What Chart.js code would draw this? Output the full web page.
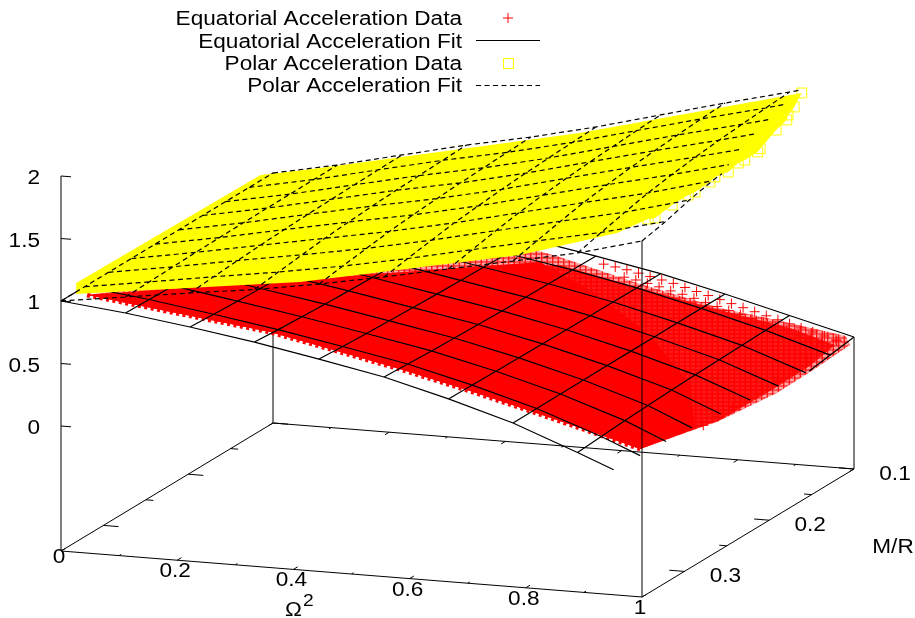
<!DOCTYPE html>
<html>
<head>
<meta charset="utf-8">
<title>Acceleration fits</title>
<script src="https://cdn.jsdelivr.net/npm/chart.js@4"></script>
<style>
  html, body { margin: 0; padding: 0; background: #fff; overflow: hidden; }
  canvas { display: block; }
</style>
</head>
<body>
<canvas id="myChart" width="915" height="618"></canvas>
<script>
/* global Chart */

// mesh of the two fits
const omegaGrid = [0, 0.111, 0.222, 0.333, 0.444, 0.556, 0.667, 0.778, 0.889, 1];
const mrGrid = [0.35, 0.322, 0.294, 0.267, 0.239, 0.211, 0.183, 0.156, 0.128, 0.1];

// one row per M/R value, one column per omega^2 value
const eqFitRows = [
  [1, 0.945, 0.874, 0.794, 0.699, 0.597, 0.462, 0.31, 0.115, -0.09],
  [1, 0.938, 0.861, 0.779, 0.685, 0.586, 0.458, 0.312, 0.129, -0.085],
  [1, 0.932, 0.851, 0.767, 0.674, 0.576, 0.454, 0.313, 0.141, -0.08],
  [1, 0.928, 0.842, 0.757, 0.665, 0.569, 0.451, 0.314, 0.151, -0.07],
  [1, 0.923, 0.834, 0.749, 0.656, 0.562, 0.448, 0.315, 0.16, -0.05],
  [1, 0.92, 0.828, 0.741, 0.649, 0.556, 0.446, 0.316, 0.167, -0.03],
  [1, 0.917, 0.823, 0.735, 0.644, 0.551, 0.444, 0.316, 0.173, -0.015],
  [1, 0.914, 0.818, 0.73, 0.639, 0.548, 0.443, 0.317, 0.178, -0.003],
  [1, 0.912, 0.814, 0.725, 0.634, 0.544, 0.441, 0.318, 0.183, 0.026],
  [1, 0.91, 0.81, 0.72, 0.63, 0.54, 0.44, 0.318, 0.187, 0.056],
];
const polarFitRows = [
  [1, 1.073, 1.146, 1.214, 1.299, 1.397, 1.502, 1.606, 1.711, 1.848],
  [1, 1.079, 1.161, 1.239, 1.328, 1.43, 1.542, 1.652, 1.761, 1.89],
  [1, 1.085, 1.176, 1.263, 1.355, 1.462, 1.579, 1.695, 1.809, 1.947],
  [1, 1.09, 1.188, 1.284, 1.38, 1.49, 1.612, 1.733, 1.851, 1.99],
  [1, 1.094, 1.198, 1.3, 1.398, 1.511, 1.637, 1.762, 1.883, 2.015],
  [1, 1.097, 1.206, 1.313, 1.413, 1.529, 1.658, 1.786, 1.909, 2.038],
  [1, 1.1, 1.212, 1.324, 1.425, 1.543, 1.675, 1.805, 1.93, 2.06],
  [1, 1.101, 1.217, 1.331, 1.434, 1.554, 1.687, 1.82, 1.946, 2.078],
  [1, 1.103, 1.222, 1.339, 1.443, 1.564, 1.7, 1.834, 1.962, 2.1],
  [1, 1.105, 1.226, 1.346, 1.451, 1.573, 1.71, 1.846, 1.975, 2.11],
];

// extent of the data clouds: [omega^2, depth along the M/R axis (0 = 0.35, 1 = 0.1), acceleration]
const eqDataEdge = [
  [0.034, 0.03, 1.03], [0.349, 0.03, 0.85], [0.452, 0.03, 0.752], [0.572, 0.03, 0.636],
  [0.688, 0.03, 0.51], [0.802, 0.03, 0.377], [0.912, 0.03, 0.242], [0.986, 0.03, 0.149],
];
const eqDataRim = [
  [0.997, 0.25, 0.078], [1.001, 0.35, 0.042], [1.006, 0.62, 0], [1.01, 0.78, 0.021],
  [1.004, 0.97, 0.024], [0.986, 1, 0.059], [0.897, 0.98, 0.151], [0.777, 0.98, 0.226],
  [0.634, 0.98, 0.374], [0.501, 0.98, 0.533], [0.398, 0.98, 0.631],
];
const eqDataThick = [
  [1.007, 0.35, 0.06], [1.003, 0.62, 0.038], [1.004, 0.78, 0.051], [1.004, 0.9, 0.096],
  [0.908, 0.95, 0.146], [0.788, 0.95, 0.245], [0.65, 0.95, 0.371], [0.501, 0.98, 0.469],
];
const eqDataDense = [
  [1, 0.25, 0.096], [0.918, 0.45, 0.205], [0.777, 0.65, 0.348], [0.619, 0.8, 0.497], [0.467, 0.98, 0.481],
];
// outer rows of plus marks that stand apart
const eqBackOmega = [0.58, 0.6, 0.62, 0.64, 0.66, 0.68, 0.7, 0.72, 0.74, 0.76, 0.78, 0.8, 0.82, 0.84, 0.86, 0.88, 0.9, 0.92, 0.94, 0.96, 0.98];
const eqBackValues = [0.515, 0.5, 0.485, 0.465, 0.445, 0.425, 0.405, 0.38, 0.355, 0.33, 0.305, 0.28, 0.255, 0.23, 0.205, 0.18, 0.155, 0.13, 0.105, 0.08, 0.055];
const eqNextOmega = [0.63, 0.65, 0.67, 0.69, 0.71, 0.73, 0.75, 0.77, 0.79, 0.81, 0.83, 0.85, 0.87, 0.89, 0.91, 0.93, 0.95, 0.97];
const eqNextValues = [0.47, 0.455, 0.435, 0.415, 0.39, 0.37, 0.345, 0.32, 0.295, 0.27, 0.245, 0.22, 0.195, 0.17, 0.145, 0.12, 0.095, 0.07];
const eqSideDepth = [0.33, 0.4, 0.47, 0.54, 0.61, 0.68, 0.75, 0.82, 0.89, 0.96];
const eqSideValues = [0.03, 0.03, 0.03, 0.03, 0.03, 0.03, 0.035, 0.04, 0.05, 0.06];

const polarDataFront = [
  [0.008, 0.05, 1.008], [0.393, 0.05, 1.246], [0.772, 0.05, 1.601], [0.939, 0.05, 1.838],
];
const polarDataBack = [
  [0.539, 0.97, 1.549], [0.092, 0.97, 1.104], [0.015, 0.9, 1.092], [0.008, 0.05, 1.096],
];
const polarDataRim = [
  [0.91, 1, 1.975], [0.908, 0.97, 1.893], [0.923, 0.9, 1.906], [0.928, 0.88, 1.889],
  [0.939, 0.8, 1.894], [0.948, 0.7, 1.851], [0.951, 0.68, 1.846], [0.958, 0.6, 1.866],
  [0.954, 0.58, 1.861], [0.966, 0.5, 1.875], [0.965, 0.44, 1.897], [0.971, 0.4, 1.9],
  [0.982, 0.3, 1.926], [0.981, 0.27, 1.932], [0.979, 0.2, 1.923], [0.986, 0.1, 1.925],
  [0.985, 0.07, 1.947],
];

const zTicks = [0, 0.5, 1, 1.5, 2];
const zTickLabels = ["0", "0.5", "1", "1.5", "2"];
const omegaTicks = [0, 0.2, 0.4, 0.6, 0.8, 1];
const omegaTickLabels = ["0", "0.2", "0.4", "0.6", "0.8", "1"];
const omegaMinorTicks = [0.1, 0.3, 0.5, 0.7, 0.9];
const mrTicks = [0.1, 0.2, 0.3];
const mrTickLabels = ["0.1", "0.2", "0.3"];
const mrMinorTicks = [0.15, 0.25];
const legendLabels = [
  "Equatorial Acceleration Data",
  "Equatorial Acceleration Fit",
  "Polar Acceleration Data",
  "Polar Acceleration Fit",
];

const W = 915;
const H = 618;
const FONT = '20px "Liberation Sans", Arial, sans-serif';
const STRETCH = 1.13; // the reference text is wider than it is tall

// gnuplot style view of the box, gives chart x/y for a point of the surface
function project(u, w, a) {
  return {
    x: 61 + 581 * u + 212 * w,
    y: 551 + 46 * u - 128 * w - 125 * (a + 1),
  };
}
function depth(mr) {
  return (0.35 - mr) / 0.25;
}

// line through [u, w, a] nodes, cut off where it leaves the z range 0..2
function clippedLine(nodes) {
  const out = [];
  for (let i = 0; i < nodes.length; i++) {
    const n = nodes[i];
    const inside = n[2] >= 0 && n[2] <= 2;
    if (i > 0) {
      const p = nodes[i - 1];
      const pIn = p[2] >= 0 && p[2] <= 2;
      if (inside !== pIn) {
        const lim = n[2] > 2 || p[2] > 2 ? 2 : 0;
        const t = (lim - p[2]) / (n[2] - p[2]);
        out.push(project(p[0] + (n[0] - p[0]) * t, p[1] + (n[1] - p[1]) * t, lim));
        if (!inside) out.push({ x: NaN, y: NaN });
      }
    }
    if (inside) out.push(project(n[0], n[1], n[2]));
  }
  return out;
}

function meshData(rows) {
  let pts = [];
  rows.forEach(function (row, j) {
    const nodes = row.map(function (a, i) {
      return [omegaGrid[i], depth(mrGrid[j]), a];
    });
    pts = pts.concat(clippedLine(nodes), [{ x: NaN, y: NaN }]);
  });
  omegaGrid.forEach(function (u, i) {
    const nodes = rows.map(function (row, j) {
      return [u, depth(mrGrid[j]), row[i]];
    });
    pts = pts.concat(clippedLine(nodes), [{ x: NaN, y: NaN }]);
  });
  return pts;
}

function polyPts(nodes) {
  return nodes.map(function (n) {
    return project(n[0], n[1], n[2]);
  });
}

// segments joined with gaps, for frame and tics
function segs(list) {
  const pts = [];
  list.forEach(function (s) {
    pts.push(project(s[0], s[1], s[2]), project(s[3], s[4], s[5]), { x: NaN, y: NaN });
  });
  return pts;
}

const backFrame = [
  [0, 1, -1, 0, 1, 0.72],
  [0, 0, -1, 0, 1, -1],
  [0, 1, -1, 1, 1, -1],
  [1, 1, -1, 1, 1, 0.056],
];
const frontFrame = [
  [0, 0, -1, 0, 0, 2],
  [0, 0, -1, 1, 0, -1],
  [1, 0, -1, 1, 1, -1],
  [1, 0, -1, 1, 0, 1.85],
];

const ticList = [];
zTicks.forEach(function (z) {
  ticList.push([0, 0, z, 0.0172, 0, z]);
});
mrTicks.forEach(function (m) {
  ticList.push([0, depth(m), -1, 0.026, depth(m), -1]);
  ticList.push([1, depth(m), -1, 0.974, depth(m), -1]);
});
mrMinorTicks.forEach(function (m) {
  ticList.push([0, depth(m), -1, 0.013, depth(m), -1]);
  ticList.push([1, depth(m), -1, 0.987, depth(m), -1]);
});
omegaTicks.forEach(function (u) {
  ticList.push([u, 0, -1, u, 0.02, -1]);
  ticList.push([u, 1, -1, u, 0.98, -1]);
});
omegaMinorTicks.forEach(function (u) {
  ticList.push([u, 0, -1, u, 0.01, -1]);
  ticList.push([u, 1, -1, u, 0.99, -1]);
});

// cross hatch made of plus marks for the thin part of the data cloud
function plusPattern(cw, ch, alpha) {
  const c = document.createElement("canvas");
  c.width = cw;
  c.height = ch;
  const g = c.getContext("2d");
  g.fillStyle = "rgba(255,0,0," + alpha + ")";
  g.fillRect(0, 0, cw, ch);
  g.strokeStyle = "#ff0000";
  g.lineWidth = 1.2;
  [[cw / 4, ch / 4], [(3 * cw) / 4, (3 * ch) / 4]].forEach(function (p) {
    g.beginPath();
    for (let dx = -cw; dx <= cw; dx += cw) {
      for (let dy = -ch; dy <= ch; dy += ch) {
        g.moveTo(p[0] + dx - 5, p[1] + dy);
        g.lineTo(p[0] + dx + 5, p[1] + dy);
        g.moveTo(p[0] + dx, p[1] + dy - 5);
        g.lineTo(p[0] + dx, p[1] + dy + 5);
      }
    }
    g.stroke();
  });
  return g.createPattern(c, "repeat");
}

function lineSet(label, data, color, width, dash) {
  return {
    label: label,
    data: data,
    showLine: true,
    spanGaps: false,
    borderColor: color,
    borderWidth: width,
    borderDash: dash || [],
    pointRadius: 0,
    fill: false,
    tension: 0,
  };
}
function areaSet(label, nodes, fillColor) {
  const d = polyPts(nodes);
  d.push(d[0]);
  return {
    label: label,
    data: d,
    showLine: true,
    borderWidth: 0,
    borderColor: "rgba(0,0,0,0)",
    backgroundColor: fillColor,
    pointRadius: 0,
    fill: "shape",
    tension: 0,
  };
}
function markSet(label, data, style, color, radius) {
  return {
    label: label,
    data: data,
    showLine: false,
    pointStyle: style,
    pointRadius: radius,
    pointBorderColor: color,
    pointBackgroundColor: "rgba(0,0,0,0)",
    pointBorderWidth: 1,
  };
}

const eqRimMarks = eqBackOmega
  .map(function (u, i) {
    return [u, 0.97, eqBackValues[i]];
  })
  .concat(
    eqNextOmega.map(function (u, i) {
      return [u, 0.93, eqNextValues[i]];
    }),
    eqSideDepth.map(function (w, i) {
      return [0.985, w, eqSideValues[i]];
    })
  );

const polarOutline = polarDataFront.concat(polarDataRim.slice().reverse(), polarDataBack);

const datasets = [
  lineSet("back frame", segs(backFrame), "#000", 1),
  areaSet("Equatorial Acceleration Data thin", eqDataEdge.concat(eqDataRim), plusPattern(11, 8, 0.35)),
  areaSet("Equatorial Acceleration Data thick", eqDataEdge.concat(eqDataThick), plusPattern(11, 8, 0.85)),
  areaSet("Equatorial Acceleration Data", eqDataEdge.concat(eqDataDense), "#ff0000"),
  markSet("Equatorial rim", polyPts(eqRimMarks), "cross", "#ff0000", 5),
  lineSet("Equatorial edge", polyPts(eqDataEdge), "#ff0000", 5, [3, 3.5]),
  lineSet("Equatorial Acceleration Fit", meshData(eqFitRows), "#000", 1.2),
  areaSet("Polar Acceleration Data", polarOutline, "#ffff00"),
  markSet("Polar rim", polyPts(polarDataRim), "rect", "#ffff00", 7),
  lineSet("front frame", segs(frontFrame.concat(ticList)), "#000", 1),
  lineSet("Polar Acceleration Fit", meshData(polarFitRows), "#000", 1.2, [5, 3.5]),
];
datasets.forEach(function (d, i) {
  d.order = datasets.length - i;
});

function label(g, text, x, y, align) {
  g.save();
  g.translate(x, y);
  g.scale(STRETCH, 1);
  g.textAlign = align;
  g.fillText(text, 0, 0);
  g.restore();
}

// tick labels and the key, gnuplot puts these by hand too
const textPlugin = {
  id: "plotText",
  afterDraw: function (chart) {
    const g = chart.ctx;
    g.save();
    g.font = FONT;
    g.fillStyle = "#000";
    g.textBaseline = "alphabetic";

    zTicks.forEach(function (z, i) {
      label(g, zTickLabels[i], 40, project(0, 0, z).y + 8, "right");
    });
    omegaTicks.forEach(function (u, i) {
      const p = project(u, 0, -1);
      label(g, omegaTickLabels[i], p.x - 2, p.y + (i > 0 ? 17 : 12), "center");
    });
    mrTicks.forEach(function (m, i) {
      const p = project(1, depth(m), -1);
      label(g, mrTickLabels[i], p.x + 41, p.y + 11, "center");
    });
    label(g, "M/R", 893, 553, "center");

    label(g, "\u03a9", 285, 616, "left");
    g.font = '17px "Liberation Sans", Arial, sans-serif';
    label(g, "2", 303, 606, "left");
    g.font = FONT;

    // key
    const base = [25, 47.5, 70, 92];
    legendLabels.forEach(function (t, i) {
      label(g, t, 462, base[i], "right");
    });
    g.lineWidth = 1;
    g.strokeStyle = "#ff0000";
    g.beginPath();
    g.moveTo(503, 18);
    g.lineTo(513, 18);
    g.moveTo(508, 13);
    g.lineTo(508, 23);
    g.stroke();
    g.strokeStyle = "#000";
    g.beginPath();
    g.moveTo(476, 40.5);
    g.lineTo(540, 40.5);
    g.stroke();
    g.strokeStyle = "#ffff00";
    g.strokeRect(503.5, 58.5, 10, 10);
    g.strokeStyle = "#000";
    g.setLineDash([5, 3.5]);
    g.beginPath();
    g.moveTo(476, 85.5);
    g.lineTo(540, 85.5);
    g.stroke();
    g.restore();
  },
};

const ctx = document.getElementById("myChart");
const myChart = new Chart(ctx, {
  type: "scatter",
  data: { datasets: datasets },
  plugins: [textPlugin],
  options: {
    responsive: false,
    animation: false,
    layout: { padding: 0, autoPadding: false },
    plugins: {
      legend: { display: false },
      tooltip: { enabled: false },
    },
    scales: {
      x: { type: "linear", min: 0, max: W, display: false },
      y: { type: "linear", min: 0, max: H, reverse: true, display: false },
    },
  },
});
</script>
</body>
</html>
